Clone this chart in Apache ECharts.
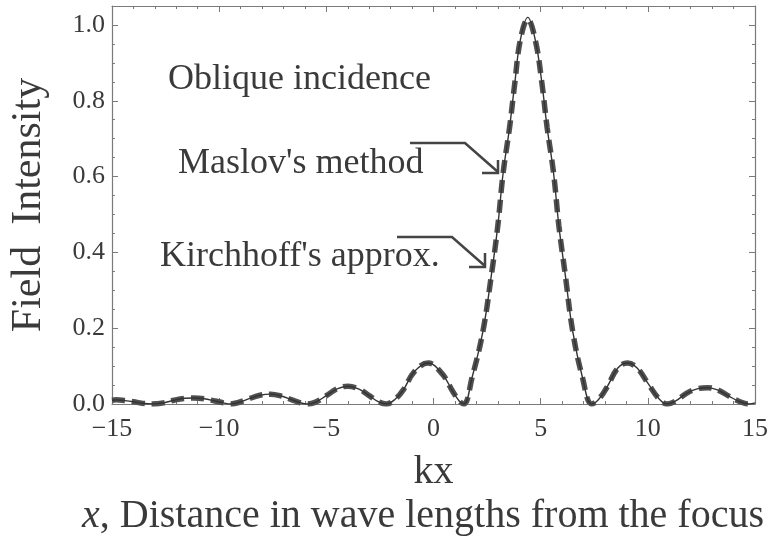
<!DOCTYPE html>
<html>
<head>
<meta charset="utf-8">
<script src="https://cdn.jsdelivr.net/npm/echarts@6/dist/echarts.min.js"></script>
<style>
html,body{margin:0;padding:0;background:#ffffff;}
#chart{width:771px;height:544px;}
</style>
</head>
<body>
<div id="chart"></div>
<script>
var kx = [
  -15.0, -14.8, -14.4, -14.0, -13.6, -13.1, -12.6, -12.1, -11.6, -11.2,
  -10.7, -10.2, -9.8, -9.5, -9.1, -8.6, -8.1, -7.6, -7.1, -6.6,
  -6.2, -5.9, -5.5, -5.0, -4.5, -4.0, -3.5, -3.0, -2.6, -2.2,
  -1.8, -1.4, -0.9, -0.25, 0.4, 0.9, 1.2, 1.42, 1.8, 2.3,
  2.7, 3.0, 3.25, 3.55, 3.8, 4.05, 4.4, 4.75, 5.05, 5.3,
  5.6, 5.85, 6.15, 6.5, 6.95, 7.38, 7.7, 8.1, 8.6, 9.05,
  9.5, 10.0, 10.5, 10.9, 11.3, 11.8, 12.3, 12.8, 13.3, 13.8,
  14.3, 14.75, 15.0
];
// Maslov's method (thin solid line)
var maslov = [
  0.010, 0.011, 0.009, 0.006, 0.002, 0.000, 0.003, 0.010, 0.015, 0.016,
  0.014, 0.008, 0.003, 0.000, 0.004, 0.014, 0.023, 0.026, 0.021, 0.011,
  0.003, 0.000, 0.005, 0.022, 0.040, 0.047, 0.040, 0.022, 0.007, 0.000,
  0.012, 0.038, 0.085, 0.108, 0.080, 0.033, 0.008, 0.000, 0.070, 0.190,
  0.340, 0.470, 0.610, 0.730, 0.850, 0.960, 1.020, 0.960, 0.850, 0.730,
  0.610, 0.470, 0.340, 0.190, 0.070, 0.000, 0.012, 0.045, 0.095, 0.108,
  0.095, 0.055, 0.015, 0.000, 0.008, 0.028, 0.040, 0.043, 0.036, 0.020,
  0.006, 0.000, 0.003
];
// Kirchhoff's approximation (thick dashed line)
var kirchhoff = [
  0.010, 0.011, 0.009, 0.006, 0.002, 0.000, 0.003, 0.010, 0.015, 0.016,
  0.014, 0.008, 0.003, 0.000, 0.004, 0.014, 0.023, 0.026, 0.021, 0.011,
  0.003, 0.000, 0.005, 0.022, 0.040, 0.047, 0.040, 0.022, 0.007, 0.000,
  0.012, 0.038, 0.085, 0.108, 0.080, 0.033, 0.008, 0.000, 0.070, 0.190,
  0.340, 0.470, 0.610, 0.730, 0.850, 0.960, 1.015, 0.960, 0.850, 0.730,
  0.610, 0.470, 0.340, 0.190, 0.070, 0.000, 0.012, 0.045, 0.095, 0.108,
  0.095, 0.055, 0.015, 0.000, 0.008, 0.028, 0.040, 0.043, 0.036, 0.020,
  0.006, 0.000, 0.003
];
var xTicks = [-15, -10, -5, 0, 5, 10, 15];
var yTicks = [0.0, 0.2, 0.4, 0.6, 0.8, 1.0];

var FONT = '"Liberation Serif", "DejaVu Serif", serif';
var TXT = '#3a3a3a';
var AX = '#7a7a7a';

function pairs(xs, ys) {
  var out = [];
  for (var i = 0; i < xs.length; i++) out.push([xs[i], ys[i]]);
  return out;
}

var chart = echarts.init(document.getElementById('chart'), null, {renderer: 'canvas'});

function axisCommon() {
  return {
    axisLine: {show: true, onZero: false, lineStyle: {color: AX, width: 1.2}},
    axisTick: {show: true, inside: true, length: 6, lineStyle: {color: AX, width: 1}},
    minorTick: {show: true, length: 3, lineStyle: {color: AX, width: 1}},
    splitLine: {show: false},
    minorSplitLine: {show: false}
  };
}

var xBottom = Object.assign(axisCommon(), {
  type: 'value', position: 'bottom', min: xTicks[0], max: xTicks[xTicks.length - 1], interval: 5,
  axisLabel: {
    show: true, margin: 12, color: TXT, fontFamily: FONT, fontSize: 26,
    formatter: function (v) { return String(v).replace('-', '\u2212'); }
  },
  name: 'kx', nameLocation: 'middle', nameGap: 48,
  nameTextStyle: {color: TXT, fontFamily: FONT, fontSize: 40}
});
xBottom.minorTick.splitNumber = 5;
var xTop = Object.assign(axisCommon(), {
  type: 'value', position: 'top', min: xTicks[0], max: xTicks[xTicks.length - 1], interval: 5,
  axisLabel: {show: false}
});
xTop.minorTick.splitNumber = 5;

var yLeft = Object.assign(axisCommon(), {
  type: 'value', position: 'left', min: 0, max: 1.05, interval: 0.2,
  axisLabel: {
    show: true, margin: 7, color: TXT, fontFamily: FONT, fontSize: 26,
    formatter: function (v) { return yTicks.indexOf(Math.round(v * 10) / 10) >= 0 ? v.toFixed(1) : ''; },
    showMaxLabel: false
  },
  name: 'Field  Intensity', nameLocation: 'middle', nameGap: 62, nameRotate: 90,
  nameTextStyle: {color: TXT, fontFamily: FONT, fontSize: 42}
});
yLeft.minorTick.splitNumber = 4;
var yRight = Object.assign(axisCommon(), {
  type: 'value', position: 'right', min: 0, max: 1.05, interval: 0.2,
  axisLabel: {show: false}
});
yRight.minorTick.splitNumber = 4;

var arrowStyle = {stroke: '#444', lineWidth: 2.5, fill: null};

chart.setOption({
  backgroundColor: '#ffffff',
  animation: false,
  grid: {left: 105, right: 14, top: 6, bottom: 140, containLabel: false},
  xAxis: [xBottom, xTop],
  yAxis: [yLeft, yRight],
  series: [
    {
      name: "Kirchhoff's approx.", type: 'line', xAxisIndex: 0, yAxisIndex: 0,
      data: pairs(kx, kirchhoff), showSymbol: false, smooth: 0.4, z: 2,
      lineStyle: {color: '#505050', width: 5.5, type: [13, 7], cap: 'butt'}
    },
    {
      name: "Maslov's method", type: 'line', xAxisIndex: 0, yAxisIndex: 0,
      data: pairs(kx, maslov), showSymbol: false, smooth: 0.4, z: 3,
      lineStyle: {color: '#333333', width: 1.4}
    }
  ],
  graphic: [
    {type: 'text', left: 168, top: 62, style: {text: 'Oblique incidence', font: '36px ' + FONT, fill: TXT}},
    {type: 'text', left: 178, top: 146, style: {text: "Maslov's method", font: '36px ' + FONT, fill: TXT}},
    {type: 'text', left: 160, top: 239, style: {text: "Kirchhoff's approx.", font: '36px ' + FONT, fill: TXT}},
    {type: 'polyline', shape: {points: [[410, 143], [465, 143], [498, 172]]}, style: arrowStyle},
    {type: 'polyline', shape: {points: [[482, 173], [498, 173], [498, 160]]}, style: arrowStyle},
    {type: 'polyline', shape: {points: [[397, 237], [452, 237], [485, 266]]}, style: arrowStyle},
    {type: 'polyline', shape: {points: [[469, 267], [485, 267], [485, 253]]}, style: arrowStyle},
    {
      type: 'text', x: 423, y: 516,
      style: {
        text: '{i|x}, Distance in wave lengths from the focus',
        font: '40px ' + FONT, fill: TXT, align: 'center', verticalAlign: 'middle',
        rich: {i: {fontStyle: 'italic', fontFamily: FONT, fontSize: 40, fill: TXT}}
      }
    }
  ]
});
</script>
</body>
</html>
